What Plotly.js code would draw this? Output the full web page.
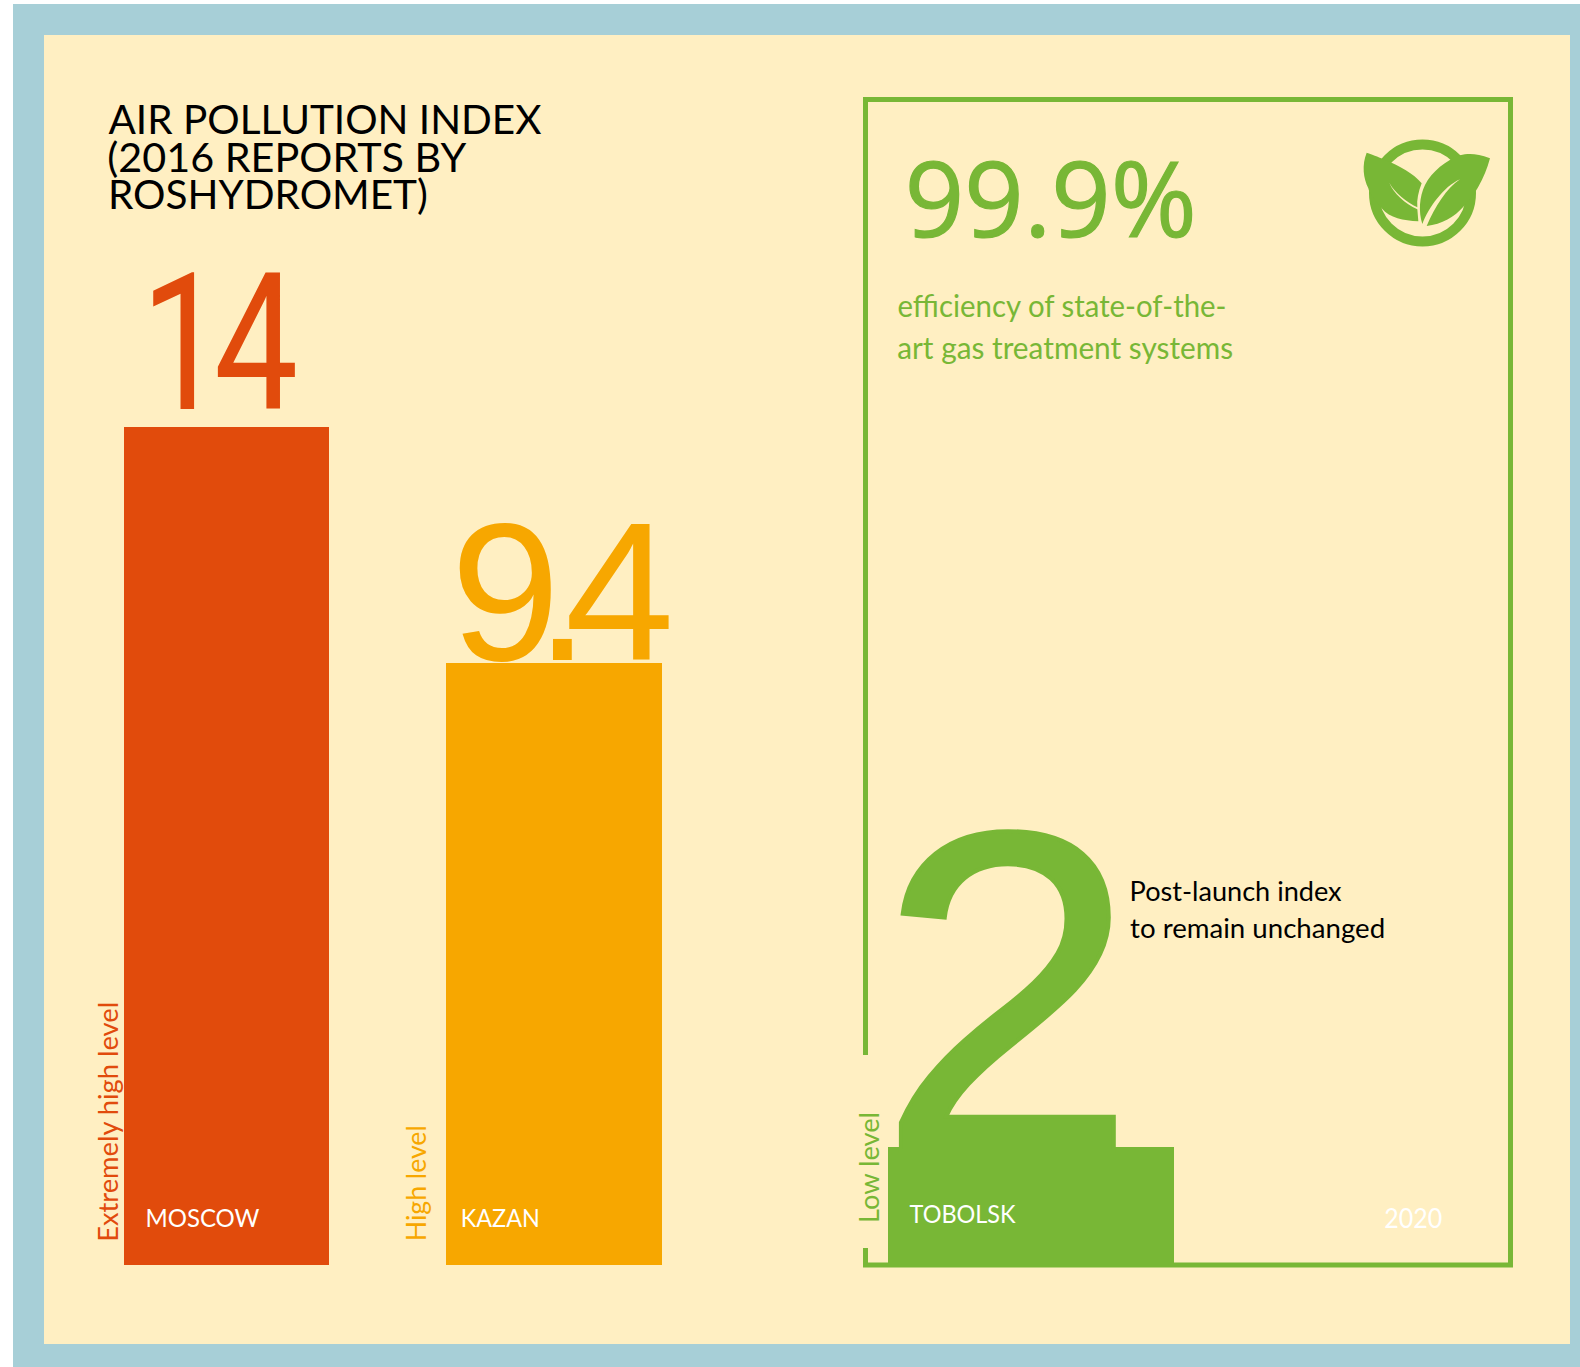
<!DOCTYPE html>
<html><head><meta charset="utf-8">
<script src="https://cdn.plot.ly/plotly-3.0.1.min.js"></script>
<style>html,body{margin:0;padding:0;background:#fff}#c{width:1580px;height:1367px}</style>
</head><body><div id="c"></div>
<script>
const cities = ["MOSCOW","KAZAN","TOBOLSK"];
const indexValues = [14, 9.4, 2];
const valueLabels = ["14","9.4","2"];
const levelLabels = ["Extremely high level","High level","Low level"];
const barColors = ["#E14B0C","#F7A700","#78B736"];
const titleLines = ["AIR POLLUTION INDEX","(2016 REPORTS BY","ROSHYDROMET)"];
const efficiencyLines = ["efficiency of state-of-the-","art gas treatment systems"];
const noteLines = ["Post-launch index","to remain unchanged"];
const headline = "99.9%";
const yearLabel = "2020";

const W=1580,H=1367;
const fx=x=>x/W, fy=y=>1-y/H;
const green="#78B736", cream="#FFEFC2", blue="#A7CFD7";
const boxes=[[124,329,427,1265],[446,662,663,1265],[888,1174,1147,1267]];

const data=[],layout={width:W,height:H,margin:{l:0,r:0,t:0,b:0},paper_bgcolor:"#fff",plot_bgcolor:"rgba(0,0,0,0)",
  showlegend:false,barmode:"overlay",bargap:0,hovermode:false,font:{family:"Lato"}};
cities.forEach((c,i)=>{
  const s=i?String(i+1):"";
  data.push({type:"bar",x:[c],y:[indexValues[i]],xaxis:"x"+s,yaxis:"y"+s,marker:{color:barColors[i],line:{width:0}},width:[1]});
  const b=boxes[i];
  layout["xaxis"+s]={domain:[fx(b[0]),fx(b[1])],anchor:"y"+s,visible:false,type:"category",range:[-0.5,0.5],fixedrange:true};
  layout["yaxis"+s]={domain:[fy(b[3]),fy(b[2])],anchor:"x"+s,visible:false,range:[0,indexValues[i]],fixedrange:true};
});

function P(str,ox=0,oy=0,k=1){
  return str.replace(/(-?[\d.]+) (-?[\d.]+)/g,(m,a,b)=>fx(ox+a*k)+" "+fy(oy+b*k));
}
const rect=(x0,y0,x1,y1,c)=>({type:"rect",xref:"paper",yref:"paper",x0:fx(x0),x1:fx(x1),y0:fy(y1),y1:fy(y0),fillcolor:c,line:{width:0},layer:"below"});
const leafL="M 200 188 C 225 197 240 202 255 210 C 300 228 340 250 365 280 C 355 305 350 330 352 352 C 320 335 285 310 268 278 C 280 310 315 340 352 358 L 355 394 C 310 392 270 385 245 355 C 215 320 205 300 205 295 C 190 265 185 225 200 188 Z";
const leafR="M 570 205 C 530 190 505 190 480 196 C 440 210 395 245 375 285 C 358 320 355 365 367 402 C 385 355 430 290 480 268 C 440 295 405 350 380 408 C 425 402 465 380 490 350 C 510 330 530 300 535 290 C 550 265 562 235 570 205 Z";
layout.shapes=[
  rect(13,4,1580,1367,blue),
  rect(44,35,1570,1344,cream),
  {type:"path",xref:"paper",yref:"paper",layer:"below",line:{color:green,width:5},fillcolor:"rgba(0,0,0,0)",
   path:P("M 865.5 1055 L 865.5 99.5 L 1510.5 99.5 L 1510.5 1265 L 865.5 1265 L 865.5 1248")},
  {type:"circle",xref:"paper",yref:"paper",layer:"above",x0:fx(1374),x1:fx(1471),y0:fy(241.5),y1:fy(144.5),line:{color:green,width:10},fillcolor:"rgba(0,0,0,0)"},
  {type:"path",xref:"paper",yref:"paper",layer:"above",line:{width:0},fillcolor:green,path:P(leafL,1300,90,1/3)},
  {type:"path",xref:"paper",yref:"paper",layer:"above",line:{width:0},fillcolor:green,path:P(leafR,1300,90,1/3)}
];
const ann=(t,cx,cy,size,color,fit,o={})=>{
  const a=Object.assign({text:t,x:fx(cx),y:fy(cy),xref:"paper",yref:"paper",showarrow:false,xanchor:"center",yanchor:"middle",borderpad:0,
    font:{family:o.family||"Lato",size:size,color:color}},o.extra||{});
  A.push(a); fits.push(Object.assign({fit,color},o));
};
const A=[],fits=[];
const span=(t,x0,x1,cy,size,color)=>ann(t,(x0+x1)/2,cy,size,color,x1-x0+2);
[[109,540],[108,465],[109,427]].forEach((s,i)=>span(titleLines[i],s[0],s[1],119+i*37.5,40,"#000"));
ann(valueLabels[0],214,343.5,192,barColors[0],null,{family:"Roboto",sx:0.78,ls:-14});
ann(valueLabels[1],549.5,592,197,barColors[1],null,{family:"Liberation Sans",ls:-25});
ann(valueLabels[2],1008,992,458,barColors[2],null,{family:"Liberation Sans",sx:1.02,sw:4});
span(cities[0],147,259,1217,25,"#fff");
span(cities[1],462,539,1217,25,"#fff");
span(cities[2],911,1015,1213,25,"#fff");
span(yearLabel,1385,1441,1218,26,"#fff");
[[106.5,1122,240],[415,1184,116],[868,1167.5,111]].forEach((p,i)=>ann(levelLabels[i],p[0],p[1],27,barColors[i],p[2],{extra:{textangle:-90}}));
ann(headline,1050.5,196,104,green,292,{family:"Open Sans",sw:1.2});
span(efficiencyLines[0],898,1225,305,30,green);
span(efficiencyLines[1],898,1232,347,30,green);
span(noteLines[0],1131,1341,890,27,"#000");
span(noteLines[1],1131,1384,927,27,"#000");
layout.annotations=A;
Plotly.newPlot("c",data,layout,{displayModeBar:false,staticPlot:true}).then(gd=>{
  gd.querySelectorAll(".annotation").forEach(g=>{
    const f=fits[+g.getAttribute("data-index")], n=g.querySelector(".annotation-text");
    if(!f||!n) return;
    if(f.fit){n.setAttribute("textLength",f.fit);n.setAttribute("lengthAdjust","spacingAndGlyphs");}
    if(f.ls) n.style.letterSpacing=f.ls+"px";
    if(f.sw){n.style.stroke=f.color;n.style.strokeWidth=f.sw+"px";}
    if(f.sx){const x=+n.getAttribute("x");n.setAttribute("transform",`translate(${x*(1-f.sx)},0) scale(${f.sx},1)`);}
  });
});
</script></body></html>
